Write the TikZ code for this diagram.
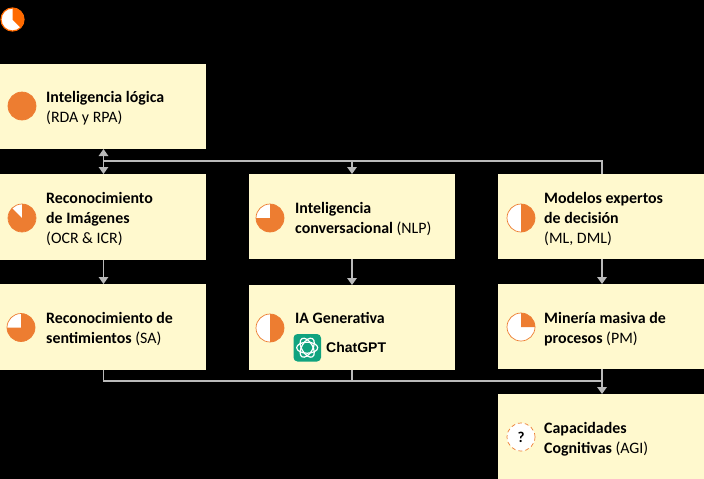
\documentclass[tikz,border=0pt]{standalone}
\usepackage{fontspec}
\setmainfont{Carlito}
\newfontfamily\arialfont{Liberation Sans}
\usetikzlibrary{arrows.meta}
\definecolor{boxfill}{HTML}{FFF9CE}
\definecolor{pieorange}{HTML}{ED7D31}
\definecolor{iconorange}{HTML}{FF6A00}
\definecolor{linegray}{HTML}{BABABA}
\definecolor{gptgreen}{HTML}{10A37F}
\tikzset{
  x=1pt,y=-1pt,
  card/.style={fill=boxfill,draw=none,minimum width=206pt,anchor=north west,inner sep=0pt,outer sep=0pt},
  label/.style={anchor=west,align=left,inner sep=0pt,font=\fontsize{15.9}{20}\selectfont,text=black},
  link/.style={draw=linegray,line width=1.5pt},
  flow/.style={link,-{Triangle[width=9.5pt,length=7pt]}},
  flowboth/.style={link,{Triangle[width=9.5pt,length=7pt]}-{Triangle[width=9.5pt,length=7pt]}},
}
% #1 centre, #2 start angle, #3 end angle of the filled wedge
\newcommand{\harvey}[3]{%
  \fill[white] (#1) circle[radius=14pt];
  \fill[pieorange] (#1) -- ++(#2:14pt) arc[start angle=#2,end angle=#3,radius=14pt] -- cycle;
  \draw[pieorange,line width=0.7pt] (#1) circle[radius=14pt];
}
\begin{document}
\begin{tikzpicture}
\useasboundingbox (0,0) rectangle (704,479);
\fill[black] (0,0) rectangle (704,479);
% top-left icon
\fill[white] (12.5,19.5) circle[radius=11.5pt];
\fill[iconorange] (12.5,19.5) -- ++(-45:11.5pt) arc[start angle=-45,end angle=90,radius=11.5pt] -- cycle;
\draw[iconorange,line width=1.2pt] (12.5,19.5) circle[radius=11.5pt];
% cards
\node[card,minimum height=85pt] (logic) at (0,64) {};
\node[card,minimum height=86pt] (image) at (0,174) {};
\node[card,minimum height=86pt] (senti) at (0,284) {};
\node[card,minimum height=85pt] (conv) at (249,174) {};
\node[card,minimum height=85pt] (gen) at (249,285) {};
\node[card,minimum height=85pt] (expert) at (498,174) {};
\node[card,minimum height=85pt] (mining) at (498,284) {};
\node[card,minimum height=85pt] (agi) at (498,394) {};
% pies
\harvey{22,106}{0}{360}
\harvey{22,218}{135}{450}
\harvey{21,327.5}{180}{450}
\harvey{270,218}{180}{450}
\harvey{270,328}{-90}{90}
\harvey{521,218}{-90}{90}
\harvey{521,327}{0}{90}
\fill[white] (521,437) circle[radius=14pt];
\draw[pieorange,line width=0.7pt,dash pattern=on 4pt off 3pt] (521,437) circle[radius=14pt];
\node[inner sep=0pt,font=\fontsize{15}{16}\selectfont\bfseries] (qmark) at (521,437) {?};
% labels
\node[label] (tlogic) at (46,108) {\textbf{Inteligencia lógica}\\(RDA y RPA)};
\node[label] (timage) at (46,218.7) {\textbf{Reconocimiento}\\\textbf{de Imágenes}\\(OCR \& ICR)};
\node[label] (tsenti) at (46,329) {\textbf{Reconocimiento de}\\\textbf{sentimientos} (SA)};
\node[label] (tconv) at (295,219) {\textbf{Inteligencia}\\\textbf{conversacional} (NLP)};
\node[label] (tgen) at (295,318) {\textbf{IA Generativa}};
\node[label] (texpert) at (544,218.7) {\textbf{Modelos expertos}\\\textbf{de decisión}\\(ML, DML)};
\node[label] (tmining) at (544,329) {\textbf{Minería masiva de}\\\textbf{procesos} (PM)};
\node[label] (tagi) at (544,439) {\textbf{Capacidades}\\\textbf{Cognitivas} (AGI)};
% ChatGPT logo
\fill[gptgreen,rounded corners=4pt] (293.5,334) rectangle (321,361.5);
\begin{scope}[shift={(307.2,347.7)}]
  \foreach \a in {0,60,120}
    \draw[white,line width=1.2pt,rotate=\a] (0,0) ellipse[x radius=10.5pt,y radius=5.5pt];
\end{scope}
\node[anchor=west,inner sep=0pt,font=\arialfont\fontsize{14}{16}\selectfont\bfseries] (tgpt) at (326,347) {ChatGPT};
% connectors
\coordinate (busA) at (103.5,161);
\coordinate (busD) at (352,161);
\coordinate (busF) at (602,161);
\coordinate (lowC) at (103.5,381);
\coordinate (lowE) at (352,381);
\coordinate (lowG) at (602,381);
\draw[flowboth] (logic.south -| busA) -- (image.north -| busA);
\draw[link] (busA) -- (busF) -- (expert.north -| busF);
\draw[flow] (busD) -- (conv.north -| busD);
\draw[flow] (image.south -| busA) -- (senti.north -| busA);
\draw[flow] (conv.south -| busD) -- (gen.north -| busD);
\draw[flow] (expert.south -| busF) -- (mining.north -| busF);
\draw[link] (senti.south -| lowC) -- (lowC) -- (lowG);
\draw[link] (gen.south -| lowE) -- (lowE);
\draw[flow] (mining.south -| lowG) -- (agi.north -| lowG);
\end{tikzpicture}
\end{document}
